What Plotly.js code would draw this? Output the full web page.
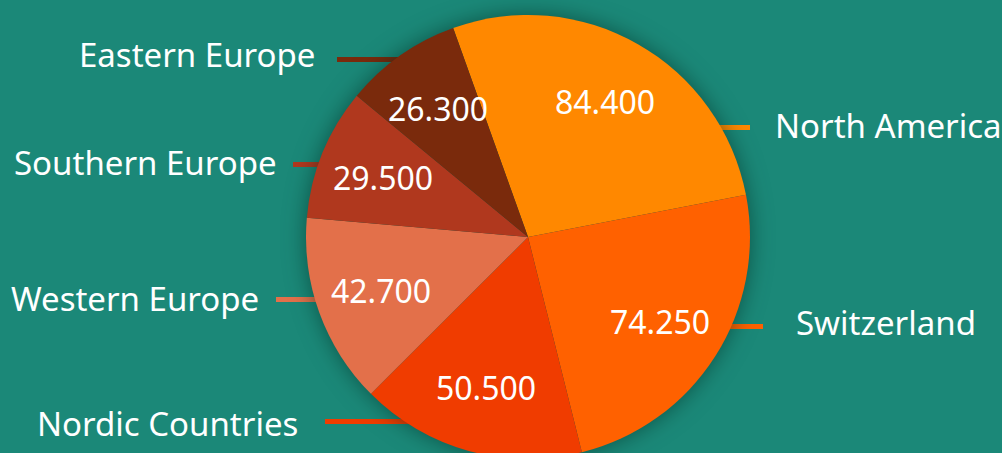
<!DOCTYPE html>
<html>
<head>
<meta charset="utf-8">
<script src="https://cdn.plot.ly/plotly-3.0.1.min.js"></script>
<style>
  html, body { margin: 0; padding: 0; overflow: hidden; background: #1b8878; }
  #chart { width: 1002px; height: 480px; }
  .pielayer { filter: drop-shadow(0 0 11px rgba(0, 40, 30, 0.55)); }
</style>
</head>
<body>
<div id="chart"></div>
<script>
// ---- data ----
const regions = ['North America', 'Switzerland', 'Nordic Countries', 'Western Europe', 'Southern Europe', 'Eastern Europe'];
const sales = [84400, 74250, 50500, 42700, 29500, 26300];
const sliceColors = ['#ff8800', '#ff6100', '#f03c00', '#e3704a', '#b0381e', '#7a2a0c'];

// ---- layout (pixels) ----
const W = 1002, H = 480;
const M = { l: 306, r: 252, t: 15, b: 21 };
const PW = W - M.l - M.r, PH = H - M.t - M.b;
const CX = M.l + PW / 2, CY = M.t + PH / 2, R = Math.min(PW, PH) / 2;
const ROTATION = -19.7;
const FONT = 'Noto Sans, Open Sans, sans-serif';
// outside label placement: side, leader line y / outer x, text anchor x / y
const labelPlacement = [
  { side: 'right', lineY: 127.5, lineX: 750, textX: 775, textY: 125 },
  { side: 'right', lineY: 326.5, lineX: 763, textX: 796, textY: 322 },
  { side: 'left',  lineY: 421.5, lineX: 325, textX: 298, textY: 423 },
  { side: 'left',  lineY: 299.5, lineX: 276, textX: 259, textY: 298 },
  { side: 'left',  lineY: 164.5, lineX: 293, textX: 277, textY: 162.5 },
  { side: 'left',  lineY: 59.5,  lineX: 337, textX: 315, textY: 54.5 }
];

const px2x = p => (p - M.l) / PW;
const px2y = p => 1 - (p - M.t) / PH;
const fmt = v => String(v).replace(/\B(?=(\d{3})+(?!\d))/g, '.');

const total = sales.reduce((a, b) => a + b, 0);
const annotations = [];
const shapes = [];
let acc = ROTATION;
sales.forEach((v, i) => {
  const span = v / total * 360;
  const mid = (acc + span / 2) * Math.PI / 180;
  acc += span;
  // value label inside the slice
  const rv = 0.705 * R;
  annotations.push({
    xref: 'paper', yref: 'paper',
    x: px2x(CX + rv * Math.sin(mid)), y: px2y(CY - rv * Math.cos(mid)),
    xanchor: 'center', yanchor: 'middle', showarrow: false,
    borderpad: 0, borderwidth: 0,
    text: fmt(v), font: { family: FONT, size: 32, color: '#ffffff' }
  });
  // outside category label
  const lp = labelPlacement[i];
  annotations.push({
    xref: 'paper', yref: 'paper',
    x: px2x(lp.textX), y: px2y(lp.textY),
    xanchor: lp.side === 'left' ? 'right' : 'left', yanchor: 'middle', showarrow: false,
    borderpad: 0, borderwidth: 0,
    text: regions[i], font: { family: FONT, size: 33, color: '#ffffff' }
  });
  // leader line from pie edge outward
  const dy = lp.lineY - CY;
  const dx = Math.sqrt(Math.max(0, R * R - dy * dy));
  const edgeX = lp.side === 'left' ? CX - dx + 14 : CX + dx - 14;
  shapes.push({
    type: 'line', layer: 'below', xref: 'paper', yref: 'paper',
    x0: px2x(lp.lineX), y0: px2y(lp.lineY), x1: px2x(edgeX), y1: px2y(lp.lineY),
    line: { color: sliceColors[i], width: 5 }
  });
});

const trace = {
  type: 'pie',
  labels: regions,
  values: sales,
  sort: false,
  direction: 'clockwise',
  rotation: ROTATION,
  textinfo: 'none',
  hoverinfo: 'label+value',
  marker: { colors: sliceColors, line: { width: 0 } },
  showlegend: false
};

const layout = {
  width: W, height: H,
  margin: M,
  paper_bgcolor: '#1b8878',
  plot_bgcolor: '#1b8878',
  showlegend: false,
  font: { family: FONT, color: '#ffffff' },
  annotations: annotations,
  shapes: shapes
};

Plotly.newPlot('chart', [trace], layout, { staticPlot: true, displayModeBar: false });
</script>
</body>
</html>
